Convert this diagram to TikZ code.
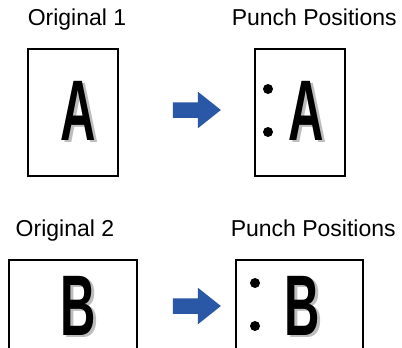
\documentclass[tikz,border=0pt]{standalone}
\usepackage{fontspec}
\setmainfont{Liberation Sans}
\usetikzlibrary{shapes.arrows, positioning}
\definecolor{arrowblue}{HTML}{2B57A7}
\definecolor{shadowgray}{HTML}{BDBDBD}
\tikzset{
    punchdiagram/.style={x=1pt, y=-1pt, line width=1.5pt},
    page/.style={draw, rectangle, inner sep=0pt},
    caption/.style={anchor=base west, inner sep=0pt, font=\fontsize{23}{23}\selectfont},
    letter/.style={anchor=base, inner sep=0pt, xscale=0.57, font=\fontsize{86}{86}\selectfont\bfseries},
    lettershadow/.style={letter, text=shadowgray},
    hole/.style={fill, circle, inner sep=0pt, minimum size=10pt},
    % block arrow between the two pages
    bluearrow/.style={single arrow, fill=arrowblue, draw=none, inner sep=7pt,
        minimum height=48pt, single arrow head extend=10.5pt, single arrow tip angle=77},
}

\begin{document}
\begin{tikzpicture}[punchdiagram]
    \clip (0,0) rectangle (402,348);

    % first original
    \node[caption] (cap1)  at (27,25)  {Original 1};
    \node[caption] (punch1) at (231,25) {Punch Positions};
    \node[page, minimum width=90pt, minimum height=127pt] (orig1) at (73,112.5) {};
    \node[page, minimum width=90pt, minimum height=127pt] (res1)  at (300,112.5) {};
    \node[lettershadow] (a1s) at (81.5,142) {A};
    \node[letter]       (a1)  at (78.5,140) {A};
    \node[lettershadow] (a2s) at (309,142) {A};
    \node[letter]       (a2)  at (306,140) {A};
    \node[hole] (h1) at (268,89)  {};
    \node[hole] (h2) at (268,132) {};
    \node[bluearrow] (arr1) at (192,110) {};

    % second original
    \node[caption] (cap2)  at (15,236)  {Original 2};
    \node[caption] (punch2) at (230,236) {Punch Positions};
    \node[page, minimum width=128pt, minimum height=110pt] (orig2) at (73,315) {};
    \node[page, minimum width=127pt, minimum height=110pt] (res2)  at (299.5,315) {};
    \node[lettershadow] (b1s) at (81,337) {B};
    \node[letter]       (b1)  at (78,335) {B};
    \node[lettershadow] (b2s) at (305,337) {B};
    \node[letter]       (b2)  at (302,335) {B};
    \node[hole] (h3) at (255,283) {};
    \node[hole] (h4) at (255,326) {};
    \node[bluearrow] (arr2) at (192,306) {};
\end{tikzpicture}
\end{document}
